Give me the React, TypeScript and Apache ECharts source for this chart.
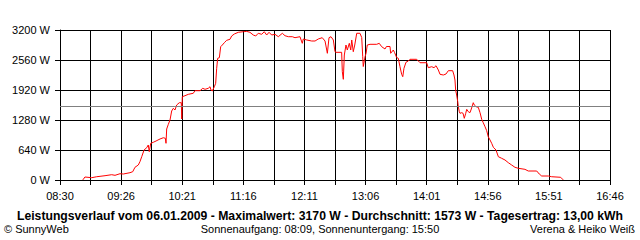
import React, { useEffect, useRef } from "react";
import * as echarts from "echarts";

// Time in minutes after 08:30, power in W
const minutesAfter0830 = [
  20.4, 21.0, 22.5, 28.6, 33.1, 40.6, 46.6, 49.6, 54.1, 57.1, 63.1, 65.6, 67.6, 70.6, 72.1, 73.7,
  75.8, 78.2, 79.6, 80.5, 81.8, 84.1, 86.6, 90.2, 93.2, 95.0, 95.6, 96.2, 97.7, 99.2, 100.7,
  102.2, 103.7, 105.2, 107.6, 109.4, 109.8, 110.3, 112.7, 115.7, 120.2, 121.7, 126.3, 128.7,
  130.8, 133.7, 135.3, 136.2, 137.3, 139.2, 140.4, 141.3, 142.2, 143.7, 144.9, 146.4, 148.2,
  150.3, 153.3, 154.8, 157.2, 160.8, 165.3, 168.4, 171.3, 174.3, 176.5, 178.8, 181.9, 184.2,
  186.4, 188.5, 190.9, 193.9, 196.9, 200.5, 202.9, 205.9, 209.5, 211.9, 216.4, 218.5, 219.4,
  222.5, 227.0, 230.0, 232.9, 236.5, 239.0, 241.1, 242.6, 244.4, 246.5, 248.0, 248.9, 254.0,
  254.6, 255.5, 256.4, 257.9, 259.1, 260.9, 262.2, 263.1, 264.5, 265.8, 267.6, 270.5, 272.1,
  273.0, 273.5, 275.1, 276.0, 277.1, 279.6, 285.6, 287.9, 290.1, 293.1, 294.4, 297.6, 298.2,
  300.6, 301.7, 303.6, 305.1, 306.6, 308.1, 309.1, 310.2, 312.0, 314.1, 315.6, 321.7, 324.7,
  330.7, 332.1, 335.2, 337.3, 339.1, 341.2, 342.7, 345.7, 348.1, 350.2, 354.1, 355.3, 356.2,
  356.8, 357.7, 358.7, 359.2, 360.1, 360.7, 362.3, 363.5, 364.6, 365.9, 366.8, 368.2, 369.7,
  370.6, 371.8, 372.7, 373.6, 375.2, 377.2, 378.8, 380.3, 381.7, 383.3, 384.8, 386.2, 387.8,
  389.3, 390.8, 393.2, 395.3, 398.3, 401.3, 404.3, 407.3, 410.3, 413.3, 419.3, 422.3, 429.9,
  432.2, 434.4, 440.4, 443.4, 451.5, 453.3, 453.9,
];
const watts = [
  0, 15, 64, 49, 70, 92, 113, 100, 134, 128, 156, 177, 271, 320, 390, 497,
  640, 689, 747, 604, 783, 804, 832, 875, 902, 890, 783, 1088, 1188, 1280, 1472,
  1530, 1493, 1600, 1649, 1649, 1301, 1777, 1798, 1828, 1850, 1905, 1905, 1956,
  1935, 1956, 1990, 1920, 1899, 1990, 2063, 2383, 2596, 2609, 2844, 2880, 2929,
  2980, 3002, 3072, 3115, 3151, 3164, 3170, 3151, 3093, 3072, 3130, 3108, 3164,
  3093, 3151, 3093, 3108, 3057, 3130, 3078, 3057, 3057, 3036, 3057, 2916, 3008,
  2987, 2965, 2965, 3008, 3036, 2965, 2703, 3036, 3057, 2987, 2737, 2724, 2724,
  2310, 2148, 2667, 2880, 2773, 2916, 2773, 2987, 2737, 2880, 3130, 3130, 3040,
  2630, 2421, 2630, 2703, 2880, 2895, 2895, 2916, 2844, 2795, 2848, 2848, 2703,
  2773, 2720, 2613, 2596, 2417, 2255, 2204, 2383, 2511, 2539, 2575, 2575, 2502,
  2502, 2396, 2417, 2396, 2438, 2347, 2255, 2240, 2261, 2332, 2332, 2240, 2133,
  1920, 1813, 1670, 1564, 1457, 1423, 1436, 1423, 1316, 1423, 1508, 1457, 1436,
  1493, 1579, 1649, 1600, 1564, 1551, 1436, 1295, 1222, 1137, 1052, 924, 853,
  783, 698, 640, 497, 463, 427, 369, 320, 271, 250, 228, 192, 192,
  128, 85, 85, 70, 58, 15, 0,
];
const timeLabels = ["08:30", "09:26", "10:21", "11:16", "12:11", "13:06", "14:01", "14:56", "15:51", "16:46"];
const spanMinutes = 496;
const yTicks = [0, 640, 1280, 1920, 2560, 3200];
const average = 1573;
const titleText =
  "Leistungsverlauf vom 06.01.2009 - Maximalwert: 3170 W - Durchschnitt: 1573 W - Tagesertrag: 13,00 kWh";
const copyrightText = "© SunnyWeb";
const sunText = "Sonnenaufgang: 08:09, Sonnenuntergang: 15:50";
const authorText = "Verena & Heiko Weiß";

const FONT = "'Liberation Sans', Arial, sans-serif";

export default function App() {
  const ref = useRef<HTMLDivElement>(null);
  useEffect(() => {
    if (!ref.current) return;
    const chart = echarts.init(ref.current, null, { renderer: "svg" });
    const step = spanMinutes / 18;
    const data = minutesAfter0830.map((m, i) => [m, watts[i]]);
    chart.setOption({
      animation: false,
      backgroundColor: "#ffffff",
      grid: { left: 60, top: 30, width: 550, height: 150, containLabel: false },
      xAxis: {
        type: "value",
        min: 0,
        max: spanMinutes,
        interval: step,
        axisLine: { show: true, lineStyle: { color: "#000", width: 1 } },
        axisTick: { show: true, length: 5, lineStyle: { color: "#000", width: 1 } },
        splitLine: { show: true, lineStyle: { color: "#000", width: 1 } },
        axisLabel: {
          color: "#000",
          fontFamily: FONT,
          fontSize: 11,
          margin: 10,
          showMinLabel: true,
          showMaxLabel: true,
          formatter: (v: number) => {
            const idx = Math.round(v / step);
            return idx % 2 === 0 ? timeLabels[idx / 2] ?? "" : "";
          },
        },
      },
      yAxis: {
        type: "value",
        min: yTicks[0],
        max: yTicks[yTicks.length - 1],
        interval: yTicks[1] - yTicks[0],
        axisLine: { show: true, lineStyle: { color: "#000", width: 1 } },
        axisTick: { show: true, length: 5, lineStyle: { color: "#000", width: 1 } },
        splitLine: { show: true, lineStyle: { color: "#000", width: 1 } },
        axisLabel: {
          color: "#000",
          fontFamily: FONT,
          fontSize: 11,
          margin: 10,
          formatter: (v: number) => `${v} W`,
        },
      },
      series: [
        {
          type: "line",
          data,
          showSymbol: false,
          symbol: "none",
          lineStyle: { color: "#ff0000", width: 1 },
          silent: true,
          markLine: {
            silent: true,
            symbol: "none",
            label: { show: false },
            lineStyle: { color: "#808080", width: 1, type: "solid" },
            data: [{ yAxis: average }],
          },
          z: 3,
        },
      ],
      graphic: [
        {
          type: "text",
          left: "center",
          top: 210,
          style: { text: titleText, font: `bold 12.2px ${FONT}`, fill: "#000" },
        },
        {
          type: "text",
          left: 4,
          top: 223,
          style: { text: copyrightText, font: `11px ${FONT}`, fill: "#000" },
        },
        {
          type: "text",
          left: "center",
          top: 223,
          style: { text: sunText, font: `11px ${FONT}`, fill: "#000" },
        },
        {
          type: "text",
          right: 5,
          top: 223,
          style: { text: authorText, font: `11px ${FONT}`, fill: "#000" },
        },
      ],
    });
    return () => chart.dispose();
  }, []);
  return (
    <div
      ref={ref}
      style={{ position: "absolute", left: 0, top: 0, width: 640, height: 240, background: "#fff" }}
    />
  );
}
